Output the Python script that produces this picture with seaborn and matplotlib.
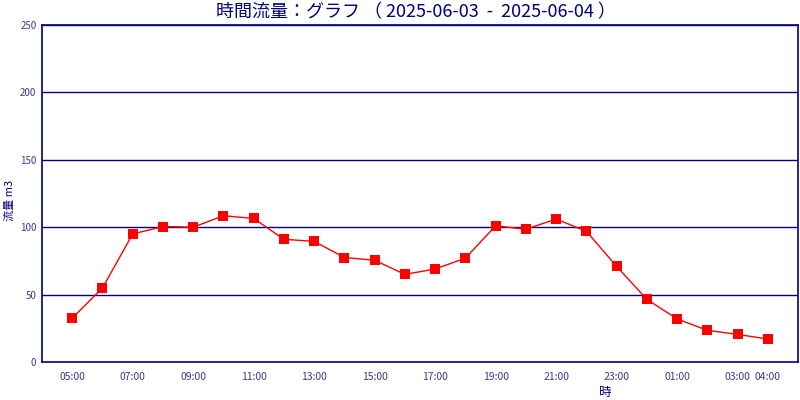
import matplotlib
matplotlib.use("Agg")
import matplotlib.pyplot as plt
import seaborn as sns
import pandas as pd

# hourly flow, 2025-06-03 05:00 .. 2025-06-04 04:00
hours = ["05:00", "06:00", "07:00", "08:00", "09:00", "10:00", "11:00", "12:00",
         "13:00", "14:00", "15:00", "16:00", "17:00", "18:00", "19:00", "20:00",
         "21:00", "22:00", "23:00", "00:00", "01:00", "02:00", "03:00", "04:00"]
flow = [32.5, 55, 95, 100.5, 100, 108.5, 106.5, 91, 89.5, 77.5, 75.5, 65,
        69, 77, 101, 98.5, 106, 97, 71, 46.5, 32, 23.5, 20.5, 17]
tick_idx = [0, 2, 4, 6, 8, 10, 12, 14, 16, 18, 20, 22, 23]
y_ticks = [0, 50, 100, 150, 200, 250]

navy = "#000080"
label_col = "#3a3a8c"

sns.set_style("white")
plt.rcParams['font.family'] = ['Noto Sans CJK JP', 'DejaVu Sans']

df = pd.DataFrame({"pos": range(len(hours)), "flow": flow})

fig = plt.figure(figsize=(8, 4), dpi=100)
ax = fig.add_axes([0.0525, 0.095, 0.945, 0.8425])

sns.lineplot(data=df, x="pos", y="flow", ax=ax, color="#ff0000", linewidth=1,
             marker="s", markersize=7.5, markeredgewidth=0, zorder=3)

ax.set_xlim(-1, 24)
ax.set_ylim(0, 250)
ax.set_yticks(y_ticks)
ax.set_yticklabels([str(v) for v in y_ticks])
ax.set_xticks(tick_idx)
ax.set_xticklabels([hours[i] for i in tick_idx])

for v in y_ticks[1:]:
    ax.axhline(v, color=navy, linewidth=1, zorder=1)

for s in ax.spines.values():
    s.set_color(navy)
    s.set_linewidth(1.2)

ax.tick_params(axis="x", direction="out", length=4, width=1, color=navy,
               labelsize=7.5, labelcolor=label_col, pad=3)
ax.tick_params(axis="y", length=0, labelsize=7, labelcolor=label_col, pad=4)

ax.set_xlabel("")
ax.set_ylabel("")
ax.text(0.745, -0.09, "時", transform=ax.transAxes, ha="center", va="center",
        fontsize=9, color=navy)
ax.text(-0.043, 0.48, "流量 m3", transform=ax.transAxes, ha="center", va="center",
        rotation=90, fontsize=8, color=navy)

fig.text(0.52, 0.97, "時間流量：グラフ （ 2025-06-03  -  2025-06-04 ）",
         ha="center", va="center", fontsize=13, color=navy)

fig.savefig("out.png", dpi=100)
